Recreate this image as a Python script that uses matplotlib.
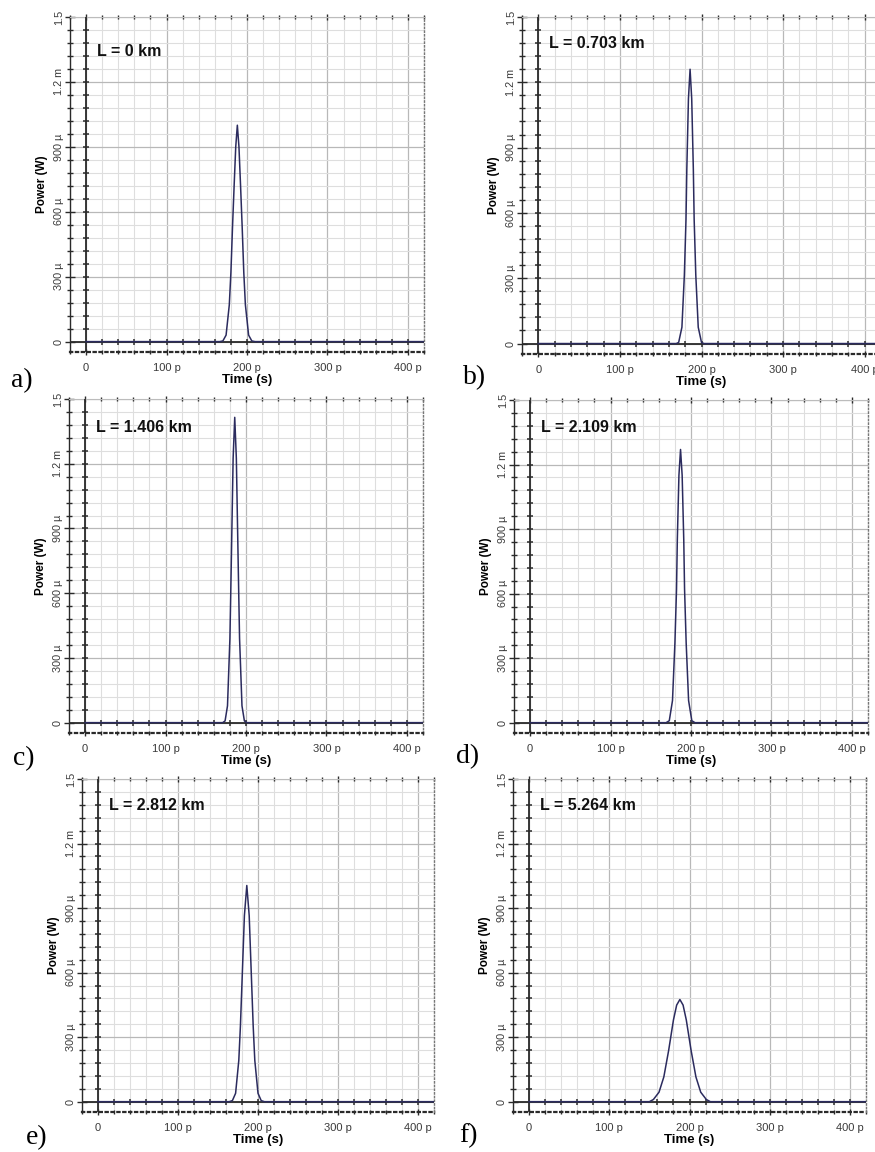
import numpy as np
import matplotlib.pyplot as plt
from matplotlib.ticker import MultipleLocator

plt.rcParams['font.family'] = ['Liberation Sans', 'DejaVu Sans']

# pulse samples: time in ps, power in uW
t_a = [0, 166, 170, 174, 178, 180, 182, 184, 186, 188, 190, 192, 194, 196, 198, 202, 206, 210, 420]
p_a = [0, 0, 3, 30, 170, 320, 530, 720, 900, 1000, 900, 720, 530, 320, 170, 30, 3, 0, 0]

t_b = [0, 169, 172, 176, 179, 181, 182, 184, 186, 188, 190, 191, 193, 196, 200, 203, 420]
p_b = [0, 0, 5, 75, 315, 570, 800, 1125, 1260, 1125, 800, 570, 315, 75, 5, 0, 0]

t_c = [0, 171, 174, 177, 180, 181, 182, 184, 186, 188, 190, 191, 192, 195, 198, 201, 420]
p_c = [0, 0, 8, 78, 390, 590, 800, 1225, 1415, 1225, 800, 590, 390, 78, 8, 0, 0]

t_d = [0, 169, 173, 177, 180, 182, 183, 185, 187, 189, 191, 192, 194, 197, 201, 205, 420]
p_d = [0, 0, 9, 103, 370, 620, 850, 1150, 1270, 1150, 850, 620, 370, 103, 9, 0, 0]

t_e = [0, 164, 168, 172, 176, 178, 180, 183, 186, 189, 192, 194, 196, 200, 204, 208, 420]
p_e = [0, 0, 5, 39, 192, 350, 555, 865, 1005, 865, 555, 350, 192, 39, 5, 0, 0]

t_f = [0, 150, 155, 162, 168, 174, 180, 184, 188, 192, 196, 202, 208, 214, 221, 226, 420]
p_f = [0, 0, 10, 44, 115, 238, 380, 449, 475, 449, 380, 238, 115, 44, 10, 0, 0]

lengths = ['L = 0 km', 'L = 0.703 km', 'L = 1.406 km',
           'L = 2.109 km', 'L = 2.812 km', 'L = 5.264 km']
tags = ['a)', 'b)', 'c)', 'd)', 'e)', 'f)']

x_ticks = [0, 100, 200, 300, 400]
x_labels = ['0', '100 p', '200 p', '300 p', '400 p']
y_ticks = [0, 300, 600, 900, 1200, 1500]
y_labels = ['0', '300 \u00b5', '600 \u00b5', '900 \u00b5', '1.2 m', '1.5']

series = [(t_a, p_a), (t_b, p_b), (t_c, p_c), (t_d, p_d), (t_e, p_e), (t_f, p_f)]

W, H = 875, 1152
# pixel boxes: left, right, top, bottom
boxes = [(70, 424, 17, 352), (522, 881, 17, 354),
         (69, 423, 399, 733), (514, 868, 400, 733),
         (82, 434, 779, 1112), (513, 866, 779, 1112)]
tag_pos = [(22, 381), (475, 378), (24, 759), (468, 757), (37, 1138), (468, 1136)]
text_drop = [34, 26, 28, 27, 26, 27]

fig = plt.figure(figsize=(W / 100, H / 100), dpi=100)
dark = '#2a2a2a'

for i, (t, p) in enumerate(series):
    l, r, top, b = boxes[i]
    ax = fig.add_axes([l / W, 1 - b / H, (r - l) / W, (b - top) / H])
    ax.set_xlim(-20, 420)
    ax.set_ylim(-48, 1500)

    ax.xaxis.set_minor_locator(MultipleLocator(20))
    ax.yaxis.set_minor_locator(MultipleLocator(60))
    ax.grid(which='major', color='#b8b8b8', lw=0.9)
    ax.grid(which='minor', color='#dedede', lw=0.8)
    ax.set_axisbelow(True)

    # zero lines with crossing ticks
    ax.axhline(0, color=dark, lw=1.3, zorder=3)
    ax.axvline(0, color=dark, lw=1.3, zorder=3)
    ym = np.arange(60, 1500, 60)
    xm = np.arange(20, 420, 20)
    ax.plot(np.zeros_like(ym), ym, ls='none', marker='_', ms=4.5, mew=1.1, color=dark, zorder=3)
    ax.plot(xm, np.zeros_like(xm), ls='none', marker='|', ms=4.5, mew=1.1, color=dark, zorder=3)

    ax.plot(t, p, color='#2b2b5e', lw=1.1, zorder=4)

    ax.set_xticks(x_ticks)
    ax.set_xticklabels(x_labels, fontsize=8, color='#3a3a3a')
    ax.set_yticks(y_ticks)
    ax.set_yticklabels(y_labels, fontsize=7.8, color='#3a3a3a', rotation=90, va='center')

    ax.tick_params(axis='y', which='major', direction='inout', length=7, width=1,
                   color=dark, pad=1)
    ax.tick_params(axis='y', which='minor', direction='inout', length=5, width=1, color=dark)
    ax.tick_params(axis='x', which='major', direction='inout', length=4, width=1,
                   color=dark, top=True, pad=6)
    ax.tick_params(axis='x', which='minor', direction='inout', length=3, width=1,
                   color=dark, top=True)

    ax.spines['left'].set_color(dark)
    ax.spines['left'].set_linewidth(1.0)
    ax.spines['bottom'].set_color(dark)
    ax.spines['bottom'].set_linestyle(':')
    ax.spines['bottom'].set_linewidth(1.6)
    ax.spines['top'].set_color('#bcbcbc')
    ax.spines['top'].set_linewidth(0.8)
    ax.spines['right'].set_color('#777777')
    ax.spines['right'].set_linestyle(':')
    ax.spines['right'].set_linewidth(1.0)

    ax.set_xlabel('Time (s)', fontsize=9.5, fontweight='bold', labelpad=0.5)
    ax.set_ylabel('Power (W)', fontsize=8.5, fontweight='bold', labelpad=4)

    ax.text(27 / (r - l), 1 - text_drop[i] / (b - top), lengths[i], transform=ax.transAxes,
            fontsize=11.5, fontweight='bold', ha='left', va='center', color='#111111')

    tx, ty = tag_pos[i]
    fig.text(tx / W, 1 - ty / H, tags[i], fontsize=20, family='Liberation Serif',
             ha='center', va='center')

fig.savefig('out.png', dpi=100)
